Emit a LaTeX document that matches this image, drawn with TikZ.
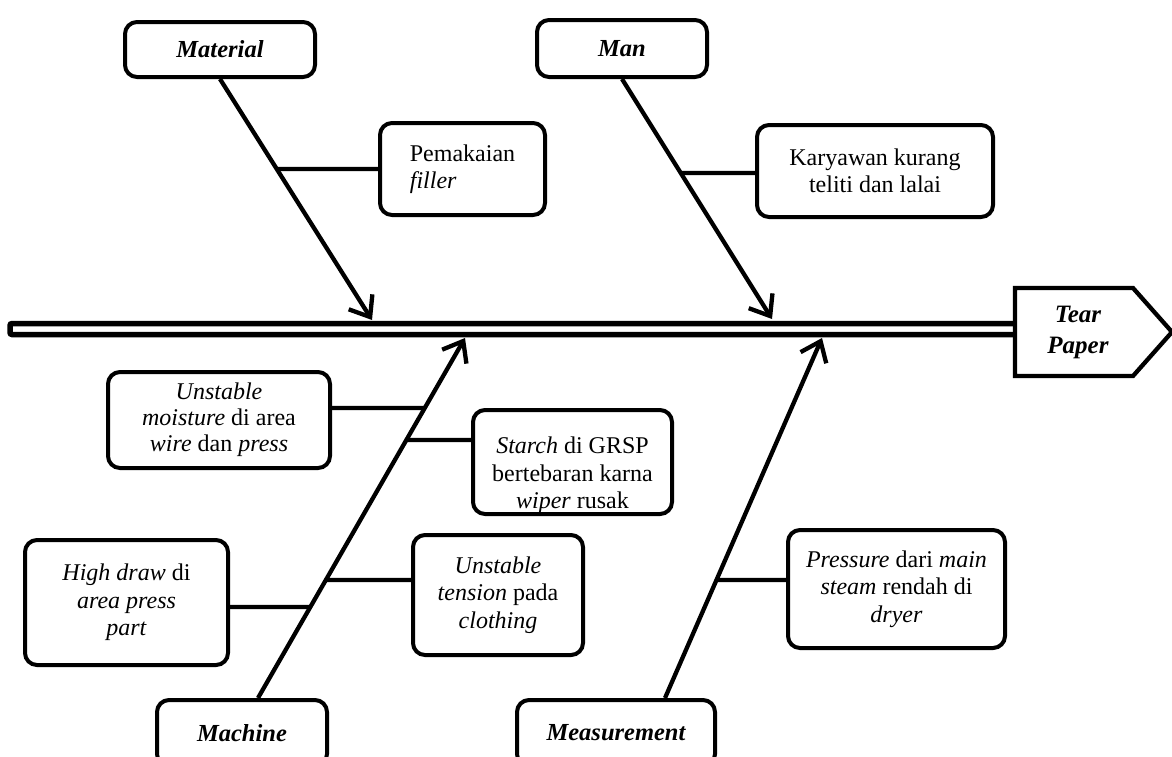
\documentclass[tikz,border=0pt]{standalone}
\usepackage{fontspec}
\setmainfont{Liberation Serif}
\usetikzlibrary{arrows.meta,calc}
\begin{document}
\begin{tikzpicture}[x=1pt,y=-1pt,
  txt/.style={font=\fontsize{24}{27.5}\selectfont},
  box/.style={draw, line width=4pt, rounded corners=12pt, fill=white, inner sep=0pt, align=center, txt},
  cat/.style={box, font=\fontsize{24.5}{28}\selectfont\bfseries\itshape},
  bone/.style={line width=4.3pt, -{Straight Barb[length=18pt,width=28pt]}},
  twig/.style={line width=4.3pt}]

\useasboundingbox (0,0) rectangle (1172,756);

% spine and effect head
\draw[line width=5.5pt, rounded corners=2pt] (10,323.5) rectangle (1016,334.5);
\draw[line width=4.3pt, fill=white] (1015,288) -- (1133,288) -- (1172,332) -- (1133,376) -- (1015,376) -- cycle;
\node[txt, font=\fontsize{25}{31}\selectfont\bfseries\itshape, align=center] (effect) at (1078,332) {Tear\\Paper};

% category boxes
\node[cat, minimum width=190pt, minimum height=55pt] (material) at (220,49.5) {Material};
\node[cat, minimum width=170pt, minimum height=57pt] (man) at (622,48.5) {Man};
\node[cat, minimum width=170pt, minimum height=66pt] (machine) at (242,733) {Machine};
\node[cat, minimum width=198pt, minimum height=66pt] (measure) at (616,733) {Measurement};

% arrow tips on the spine
\coordinate (mattip) at (372,320);
\coordinate (mantip) at (772,319);
\coordinate (machtip) at (465,338);
\coordinate (meastip) at (822,338);
\coordinate (machbase) at ([xshift=16pt]machine.north);
\coordinate (measbase) at ([xshift=49pt]measure.north);

% bones
\draw[bone] (material.south) -- (mattip);
\draw[bone] (man.south) -- (mantip);
\draw[bone] (machbase) -- (machtip);
\draw[bone] (measbase) -- (meastip);

% cause boxes
\node[box, minimum width=165pt, minimum height=92pt, align=left] (filler) at (462.5,169) {Pemakaian\\\textit{filler}};
\node[box, minimum width=236pt, minimum height=92pt] (karyawan) at (875,171) {Karyawan kurang\\teliti dan lalai};
\node[box, font=\fontsize{24}{26}\selectfont, minimum width=222pt, minimum height=96pt] (moist) at (219,420) {\textit{Unstable}\\\textit{moisture} di area\\\textit{wire} dan \textit{press}};
\begin{scope}
\clip (475,412) rectangle (670,512);
\node[txt, inner sep=0pt, align=center, anchor=north] (starchtext) at (572.5,437) {\textit{Starch} di GRSP\\bertebaran karna\\\textit{wiper} rusak};
\end{scope}
\node[box, fill=none, minimum width=199pt, minimum height=104pt] (starch) at (572.5,462) {};
\node[box, minimum width=203pt, minimum height=125pt] (highdraw) at (126.5,602.5) {\textit{High draw} di\\\textit{area press}\\\textit{part}};
\node[box, minimum width=170pt, minimum height=120pt] (tension) at (498,595) {\textit{Unstable}\\\textit{tension} pada\\\textit{clothing}};
\node[box, minimum width=217pt, minimum height=118pt] (pressure) at (896.5,589) {\textit{Pressure} dari \textit{main}\\\textit{steam} rendah di\\\textit{dryer}};

% branch anchor points
\coordinate (fiA) at (filler.west);
\coordinate (fiB) at ($(filler.west)+(-100,0)$);
\coordinate (kaA) at ($(karyawan.west)+(0,2)$);
\coordinate (kaB) at ($(kaA)+(-100,0)$);
\coordinate (moA) at ($(moist.east)+(0,-12)$);
\coordinate (moB) at ($(moA)+(100,0)$);
\coordinate (stA) at ($(starch.west)+(0,-22)$);
\coordinate (stB) at ($(stA)+(-100,0)$);
\coordinate (hdA) at ($(highdraw.east)+(0,4.5)$);
\coordinate (hdB) at ($(hdA)+(100,0)$);
\coordinate (teA) at ($(tension.west)+(0,-15)$);
\coordinate (teB) at ($(teA)+(-100,0)$);
\coordinate (prA) at ($(pressure.west)+(0,-9)$);
\coordinate (prB) at ($(prA)+(-100,0)$);

% branches
\draw[twig] (fiA) -- (intersection of material.south--mattip and fiA--fiB);
\draw[twig] (kaA) -- (intersection of man.south--mantip and kaA--kaB);
\draw[twig] (moA) -- (intersection of machbase--machtip and moA--moB);
\draw[twig] (stA) -- (intersection of machbase--machtip and stA--stB);
\draw[twig] (hdA) -- (intersection of machbase--machtip and hdA--hdB);
\draw[twig] (teA) -- (intersection of machbase--machtip and teA--teB);
\draw[twig] (prA) -- (intersection of measbase--meastip and prA--prB);
\end{tikzpicture}
\end{document}
